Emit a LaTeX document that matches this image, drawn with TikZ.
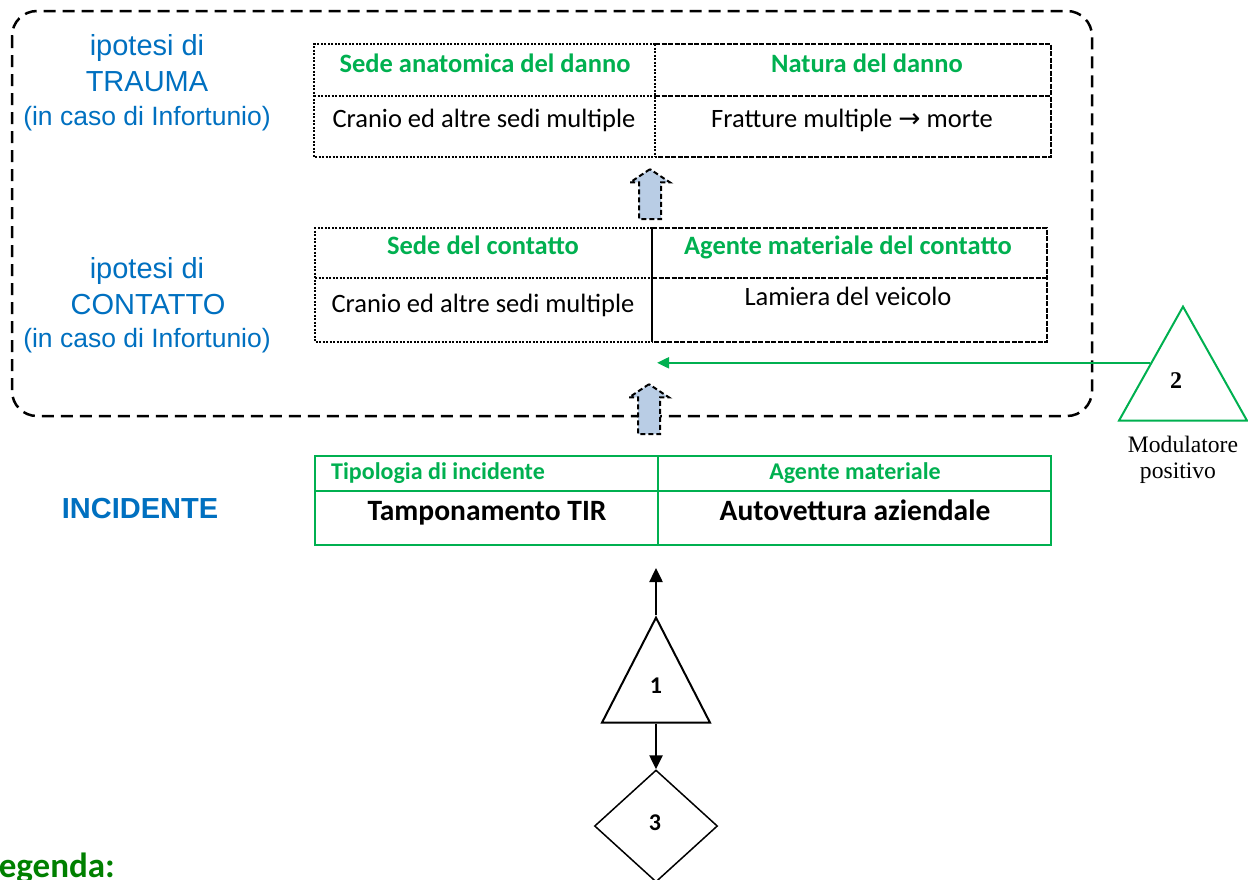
\documentclass[tikz,border=0pt]{standalone}
\usepackage{fontspec}
\setmainfont{Carlito}
\newfontfamily\arialfont{Liberation Sans}
\newfontfamily\timesfont{Liberation Serif}
\newfontfamily\symfont{DejaVu Sans}
\usetikzlibrary{arrows.meta,shapes.geometric,shapes.arrows}
\definecolor{ipoblue}{RGB}{0,112,192}
\definecolor{hdrgreen}{RGB}{0,176,80}
\definecolor{leggreen}{RGB}{0,128,0}
\definecolor{upfill}{RGB}{185,205,229}
\tikzset{
	dotline/.style={line width=2pt, dash pattern=on 2pt off 1.5pt},
	dashline/.style={line width=2pt, dash pattern=on 5pt off 1.5pt},
	cell/.style={font=\fontsize{26.5}{30}\selectfont, anchor=base, inner sep=0pt},
	hdr/.style={cell, font=\fontsize{26.5}{30}\selectfont\bfseries, text=hdrgreen},
	smallhdr/.style={cell, font=\fontsize{24}{26}\selectfont\bfseries, text=hdrgreen},
	boldcell/.style={cell, font=\fontsize{29.5}{32}\selectfont\bfseries},
	ipo/.style={font=\arialfont\fontsize{29}{32}\selectfont, text=ipoblue, anchor=base, inner sep=0pt},
	ipocaso/.style={ipo, font=\arialfont\fontsize{26.5}{30}\selectfont},
	blockup/.style={single arrow, shape border rotate=90, draw, fill=upfill, line width=2pt,
			dash pattern=on 5pt off 3pt, minimum height=50pt, minimum width=38pt, inner sep=10pt,
			single arrow head extend=9pt, single arrow tip angle=113},
	tri/.style={isosceles triangle, isosceles triangle stretches, shape border rotate=90,
			draw, line width=2pt, inner sep=0pt},
	num/.style={font=\fontsize{24}{26}\selectfont\bfseries, inner sep=0pt},
	blackarr/.style={line width=2.5pt, -{Triangle[length=14pt,width=13pt]}},
	greenarr/.style={line width=2pt, draw=hdrgreen, -{Triangle[length=12pt,width=11pt]}}
}
\begin{document}
\begin{tikzpicture}[x=1pt,y=-1pt]
	\useasboundingbox (0,0) rectangle (1248,879);
	\draw[line width=2.5pt, dash pattern=on 12pt off 7pt, rounded corners=25pt] (12,11) rectangle (1092,416);

	% trauma
	\draw[dotline] (655,44) -- (314,44) -- (314,157) -- (655,157);
	\draw[dotline] (314,96) -- (655,96);
	\draw[dotline] (655,44) -- (655,157);
	\draw[dashline] (655,44) -- (1051,44) -- (1051,157) -- (655,157);
	\draw[dashline] (655,96) -- (1051,96);
	\node[hdr] (sedeana) at (485,72) {Sede anatomica del danno};
	\node[hdr] (natura) at (867,72) {Natura del danno};
	\node[cell] (cranio1) at (484,127) {Cranio ed altre sedi multiple};
	\node[cell] (fratture) at (852,127) {Fratture multiple {\symfont →} morte};
	\node[ipo] (ipo1) at (147,55) {ipotesi di};
	\node[ipo] (trauma) at (147,91) {TRAUMA};
	\node[ipocaso] (caso1) at (147,125) {(in caso di Infortunio)};

	% contatto
	\draw[dotline] (652,228) -- (315,228) -- (315,342) -- (652,342);
	\draw[dotline] (315,278) -- (652,278);
	\draw[line width=2.5pt] (652,228) -- (652,342);
	\draw[dashline] (652,228) -- (1047,228) -- (1047,342) -- (652,342);
	\draw[dashline] (652,278) -- (1047,278);
	\node[hdr] (sedecont) at (483,254) {Sede del contatto};
	\node[hdr] (agentecont) at (848,254) {Agente materiale del contatto};
	\node[cell] (cranio2) at (483,312) {Cranio ed altre sedi multiple};
	\node[cell] (lamiera) at (848,305) {Lamiera del veicolo};
	\node[ipo] (ipo2) at (147,278) {ipotesi di};
	\node[ipo] (contatto) at (148,314) {CONTATTO};
	\node[ipocaso] (caso2) at (147,347) {(in caso di Infortunio)};

	\node[blockup, anchor=tip] (up1) at (650,168) {};
	\node[blockup, anchor=tip] (up2) at (649,383) {};

	% incidente
	\draw[line width=2pt, hdrgreen] (315,456) rectangle (1051,545);
	\draw[line width=2pt, hdrgreen] (658,456) -- (658,545);
	\draw[line width=2pt, hdrgreen] (315,491) -- (1051,491);
	\node[smallhdr, anchor=base west] (tipologia) at (331,479) {Tipologia di incidente};
	\node[smallhdr] (agente) at (855,479) {Agente materiale};
	\node[boldcell] (tampon) at (487,520) {Tamponamento TIR};
	\node[boldcell] (autovett) at (855,520) {Autovettura aziendale};
	\node[ipo, font=\arialfont\bfseries\fontsize{29}{32}\selectfont] (incidente) at (140,518) {INCIDENTE};

	% modulatore
	\node[tri, draw=hdrgreen, minimum width=128pt, minimum height=114pt, anchor=apex] (mod2) at (1183,304) {};
	\node[num, font=\timesfont\bfseries\fontsize{24}{26}\selectfont] (two) at (1176,381) {2};
	\node[font=\timesfont\fontsize{23.6}{26}\selectfont, anchor=base, inner sep=0pt] (modlbl) at (1183,452) {Modulatore};
	\node[font=\timesfont\fontsize{23.6}{26}\selectfont, anchor=base, inner sep=0pt] (poslbl) at (1178,478) {positivo};
	\coordinate (modtip) at (657,363);
	\draw[greenarr] (mod2.left side) -- (mod2.left side -| modtip);

	\node[tri, minimum width=108pt, minimum height=105pt, anchor=apex] (tri1) at (656,615) {};
	\node[num] (one) at (656,686) {1};
	\node[diamond, draw, line width=1.5pt, minimum width=123pt, minimum height=112pt, inner sep=0pt] (diam3) at (656,826) {};
	\node[num] (three) at (655,823) {3};
	\coordinate (inctip) at (656,568);
	\draw[blackarr] (tri1.apex) -- (inctip);
	\draw[blackarr] (tri1.lower side) -- (diam3.north);

	\node[font=\fontsize{35}{38}\selectfont\bfseries, text=leggreen, anchor=base east, inner sep=0pt] (legenda) at (115,877) {Legenda:};
\end{tikzpicture}
\end{document}
